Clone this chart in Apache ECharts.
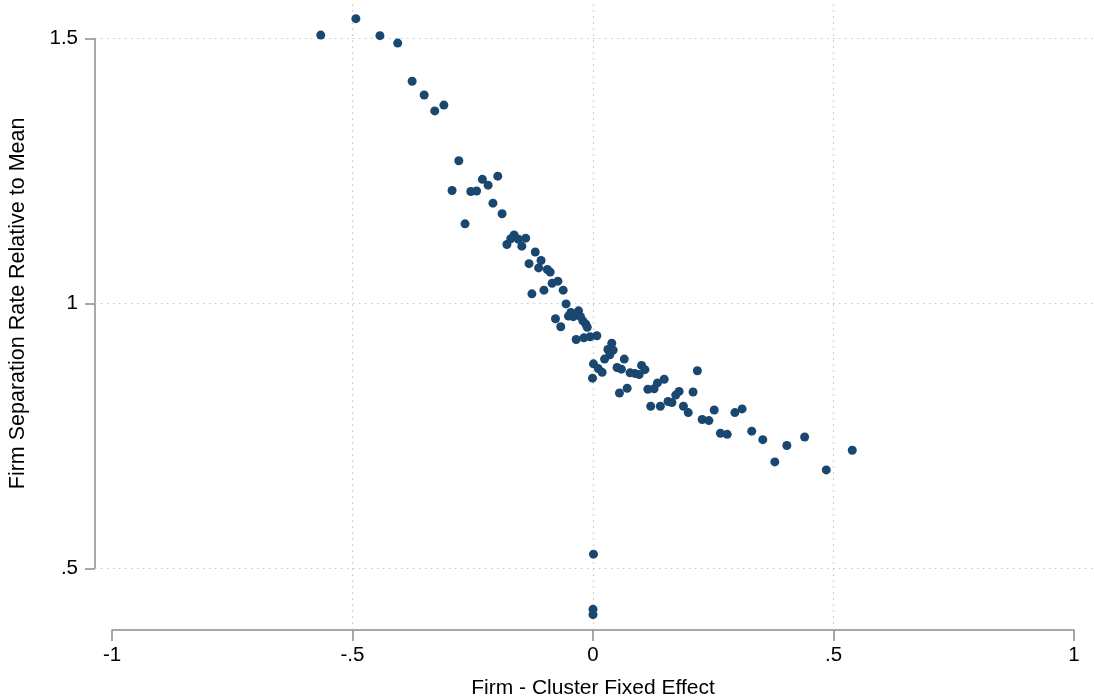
<!DOCTYPE html>
<html>
<head>
<meta charset="utf-8">
<script src="https://cdn.jsdelivr.net/npm/echarts@6/dist/echarts.min.js"></script>
<style>
    html, body { margin: 0; padding: 0; background: #fff; }
    #sep_chart { width: 1094px; height: 700px; }
</style>
</head>
<body>
<div id="sep_chart"></div>
<script>
// firm - cluster fixed effect (x) and separation rate relative to mean (y)
const firmFE = [
    -0.566, -0.493, -0.443, -0.406, -0.376, -0.351, -0.329, -0.310, -0.279, -0.293,
    -0.266, -0.254, -0.242, -0.230, -0.218, -0.198, -0.208, -0.189, -0.179, -0.171,
    -0.164, -0.155, -0.148, -0.140, -0.120, -0.108, -0.133, -0.113, -0.095, -0.089,
    -0.127, -0.102, -0.085, -0.073, -0.062, -0.056, -0.051, -0.046, -0.041, -0.030,
    -0.026, -0.021, -0.015, -0.012, -0.078, -0.067, -0.035, -0.019, -0.006, 0.008,
    0.039, 0.031, 0.042, 0.035, 0.024, 0.001, 0.011, 0.019, -0.001, 0.050,
    0.059, 0.065, 0.077, 0.087, 0.096, 0.101, 0.108, 0.055, 0.071, 0.114,
    0.127, 0.134, 0.148, 0.120, 0.140, 0.156, 0.164, 0.172, 0.179, 0.208,
    0.188, 0.198, 0.217, 0.227, 0.241, 0.252, 0.265, 0.279, 0.295, 0.310,
    0.330, 0.353, 0.378, 0.403, 0.440, 0.485, 0.539, 0.001, 0.000, 0.000
];
const sepRate = [
    1.506, 1.537, 1.505, 1.491, 1.419, 1.393, 1.363, 1.374, 1.269, 1.213,
    1.150, 1.211, 1.212, 1.234, 1.223, 1.240, 1.189, 1.169, 1.111, 1.122,
    1.129, 1.121, 1.108, 1.123, 1.097, 1.081, 1.075, 1.067, 1.064, 1.059,
    1.018, 1.025, 1.038, 1.042, 1.025, 0.999, 0.976, 0.983, 0.975, 0.986,
    0.975, 0.967, 0.961, 0.955, 0.971, 0.956, 0.932, 0.935, 0.937, 0.939,
    0.925, 0.913, 0.912, 0.903, 0.895, 0.886, 0.877, 0.870, 0.859, 0.879,
    0.876, 0.895, 0.869, 0.868, 0.866, 0.883, 0.875, 0.831, 0.840, 0.838,
    0.839, 0.850, 0.857, 0.806, 0.806, 0.815, 0.813, 0.827, 0.834, 0.833,
    0.806, 0.794, 0.873, 0.781, 0.779, 0.799, 0.755, 0.753, 0.794, 0.801,
    0.759, 0.743, 0.701, 0.732, 0.748, 0.686, 0.723, 0.527, 0.423, 0.413
];

const xTicks = [-1, -0.5, 0, 0.5, 1];
const xTickLabels = ['-1', '-.5', '0', '.5', '1'];
const yTicks = [0.5, 1, 1.5];
const yTickLabels = ['.5', '1', '1.5'];
const xGrid = [-0.5, 0, 0.5];
const yGrid = [0.5, 1, 1.5];

const font = 'Liberation Sans, Arial, sans-serif';
const axisGray = '#8c8c8c';

function tickLabel(ticks, labels) {
    return function (v) {
        for (let i = 0; i < ticks.length; i++) {
            if (Math.abs(ticks[i] - v) < 1e-6) return labels[i];
        }
        return '';
    };
}

const points = firmFE.map((x, i) => [x, sepRate[i]]);

const gridLines = xGrid.map(v => ({xAxis: v})).concat(yGrid.map(v => ({yAxis: v})));

const option = {
    animation: false,
    backgroundColor: '#fff',
    grid: [
        // data area
        {left: 95, top: 0, width: 999, height: 630, outerBoundsMode: 'none'},
        // x axis display (-1 .. 1)
        {left: 112, top: 0, width: 962, height: 630, outerBoundsMode: 'none'},
        // y axis display (.5 .. 1.5)
        {left: 95, top: 38.3, width: 999, height: 530.2, outerBoundsMode: 'none'}
    ],
    xAxis: [
        {
            gridIndex: 0, type: 'value',
            min: -1 - 17 / 481, max: 1 + 20 / 481,
            show: false
        },
        {
            gridIndex: 1, type: 'value',
            min: xTicks[0], max: xTicks[xTicks.length - 1], interval: 0.5,
            axisLine: {show: true, lineStyle: {color: axisGray, width: 1.5}},
            axisTick: {show: true, inside: false, length: 11, lineStyle: {color: axisGray, width: 1.5}},
            axisLabel: {
                color: '#000', fontSize: 20.5, fontFamily: font, margin: 15,
                formatter: tickLabel(xTicks, xTickLabels)
            },
            splitLine: {show: false},
            name: 'Firm - Cluster Fixed Effect',
            nameLocation: 'middle',
            nameGap: 48,
            nameTextStyle: {color: '#000', fontSize: 21, fontFamily: font}
        },
        {gridIndex: 2, type: 'value', show: false}
    ],
    yAxis: [
        {
            gridIndex: 0, type: 'value',
            min: 0.5 - 61.5 / 530.2, max: 1.5 + 38.3 / 530.2,
            show: false
        },
        {gridIndex: 1, type: 'value', show: false},
        {
            gridIndex: 2, type: 'value',
            min: yTicks[0], max: yTicks[yTicks.length - 1], interval: 0.5,
            axisLine: {show: true, lineStyle: {color: axisGray, width: 1.5}},
            axisTick: {show: true, inside: false, length: 10, lineStyle: {color: axisGray, width: 1.5}},
            axisLabel: {
                color: '#000', fontSize: 20.5, fontFamily: font, margin: 17,
                formatter: tickLabel(yTicks, yTickLabels)
            },
            splitLine: {show: false},
            name: 'Firm Separation Rate Relative to Mean',
            nameLocation: 'middle',
            nameGap: 66,
            nameTextStyle: {color: '#000', fontSize: 21.5, fontFamily: font}
        }
    ],
    series: [
        {
            type: 'scatter',
            xAxisIndex: 0,
            yAxisIndex: 0,
            symbol: 'circle',
            symbolSize: 9,
            itemStyle: {color: '#1a476f', opacity: 1},
            data: points,
            z: 3,
            markLine: {
                silent: true,
                symbol: ['none', 'none'],
                label: {show: false},
                lineStyle: {color: '#c4c4c4', width: 1.2, type: [1.5, 4.5]},
                data: gridLines,
                z: 1
            }
        }
    ]
};

let sepChart = echarts.init(document.getElementById('sep_chart'));
sepChart.setOption(option);

window.addEventListener('resize', function () {
    sepChart.resize();
});
</script>
</body>
</html>
